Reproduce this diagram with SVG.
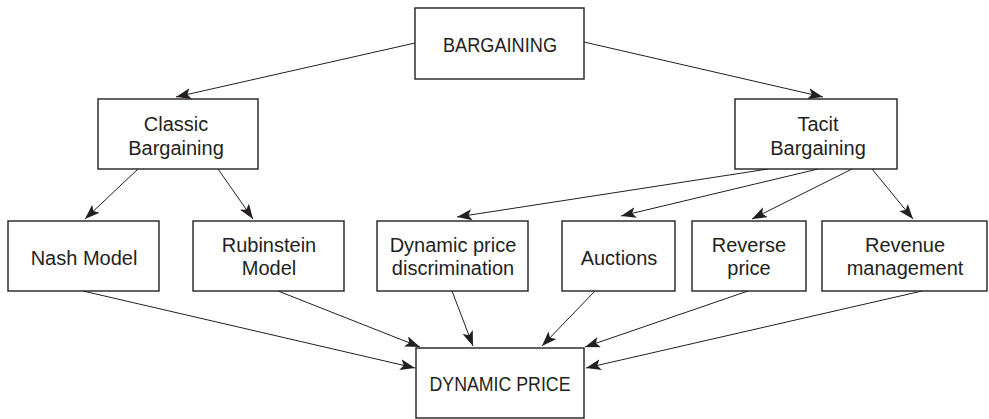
<svg xmlns="http://www.w3.org/2000/svg" width="989" height="419" viewBox="0 0 989 419">
<style>
.box{fill:#fff;stroke:#231f20;stroke-width:1.4}
.t{font-family:"Liberation Sans",Arial,sans-serif;font-size:20px;fill:#231f20;text-anchor:middle}
.c{stroke:#231f20;stroke-width:1;fill:none;marker-end:url(#ah)}
</style>
<defs>
<marker id="ah" markerUnits="userSpaceOnUse" markerWidth="16" markerHeight="12" refX="15" refY="5.5" orient="auto">
<path d="M0,0 L15,5.5 L0,11 L3.5,5.5 z" fill="#231f20"/>
</marker>
</defs>
<g id="connectors">
<line class="c" x1="415" y1="43" x2="176" y2="97"/>
<line class="c" x1="584" y1="42" x2="823" y2="97"/>
<line class="c" x1="138" y1="169" x2="85" y2="219"/>
<line class="c" x1="218" y1="169" x2="253" y2="219"/>
<line class="c" x1="768" y1="169" x2="457" y2="217"/>
<line class="c" x1="818" y1="169" x2="621" y2="216"/>
<line class="c" x1="852" y1="169" x2="752" y2="219"/>
<line class="c" x1="872" y1="169" x2="913" y2="219"/>
<line class="c" x1="83" y1="291" x2="415" y2="368"/>
<line class="c" x1="278" y1="291" x2="420" y2="347"/>
<line class="c" x1="452" y1="291" x2="473" y2="346"/>
<line class="c" x1="595" y1="291" x2="542" y2="346"/>
<line class="c" x1="748" y1="291" x2="585" y2="347"/>
<line class="c" x1="922" y1="291" x2="586" y2="368"/>
</g>
<g id="bargaining">
<rect class="box" x="415" y="8" width="169" height="71"/>
<text class="t" x="500" y="52" textLength="114" lengthAdjust="spacingAndGlyphs">BARGAINING</text>
</g>
<g id="classic">
<rect class="box" x="98" y="99" width="160" height="70"/>
<text class="t" x="176" y="131">Classic</text>
<text class="t" x="176" y="155">Bargaining</text>
</g>
<g id="tacit">
<rect class="box" x="735" y="99" width="162" height="70"/>
<text class="t" x="818" y="131">Tacit</text>
<text class="t" x="818" y="155">Bargaining</text>
</g>
<g id="nash">
<rect class="box" x="8" y="221" width="151" height="70"/>
<text class="t" x="84" y="265">Nash Model</text>
</g>
<g id="rubinstein">
<rect class="box" x="193" y="221" width="151" height="70"/>
<text class="t" x="269" y="252">Rubinstein</text>
<text class="t" x="269" y="275">Model</text>
</g>
<g id="dpd">
<rect class="box" x="377" y="221" width="151" height="70"/>
<text class="t" x="453" y="252">Dynamic price</text>
<text class="t" x="453" y="275">discrimination</text>
</g>
<g id="auctions">
<rect class="box" x="562" y="221" width="113" height="70"/>
<text class="t" x="619" y="265">Auctions</text>
</g>
<g id="reverse">
<rect class="box" x="692" y="221" width="114" height="70"/>
<text class="t" x="749" y="252">Reverse</text>
<text class="t" x="749" y="275">price</text>
</g>
<g id="revenue">
<rect class="box" x="822" y="221" width="165" height="70"/>
<text class="t" x="905" y="252">Revenue</text>
<text class="t" x="905" y="275">management</text>
</g>
<g id="dynamic-price">
<rect class="box" x="416" y="348" width="168" height="70"/>
<text class="t" x="500" y="391" textLength="141" lengthAdjust="spacingAndGlyphs">DYNAMIC PRICE</text>
</g>
</svg>
